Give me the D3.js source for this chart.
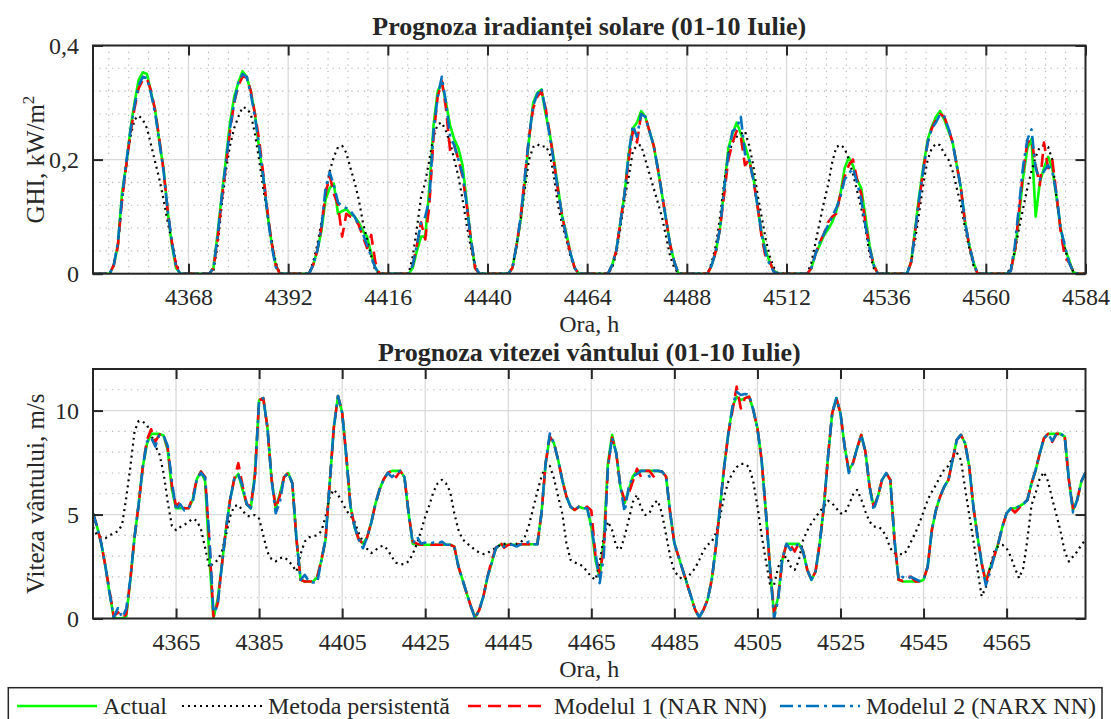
<!DOCTYPE html>
<html><head><meta charset="utf-8">
<script src="https://cdn.jsdelivr.net/npm/d3@7"></script>
<style>
body{margin:0;background:#fff}
svg{display:block}
text{font-family:"Liberation Serif","Times New Roman",serif;fill:#262626}
</style>
</head><body>
<svg id="c" width="1111" height="719"></svg>
<script>
// ---------- DATA (hourly, Ora 4345 ... 4584) ----------
const startHour = 4345;

// GHI, kW/m2
const ghiActual = [
0,0,0,0,0,0.015,0.05,0.143,0.19,0.253,0.30,0.34,0.353,0.35,0.317,0.285,0.23,0.184,0.108,0.05,0.01,0,0,0,
0,0,0,0,0,0.01,0.07,0.137,0.2,0.265,0.31,0.335,0.355,0.345,0.32,0.28,0.22,0.17,0.105,0.055,0.015,0,0,0,
0,0,0,0,0,0.015,0.04,0.075,0.13,0.15,0.158,0.105,0.11,0.113,0.105,0.1,0.09,0.075,0.065,0.035,0.01,0,0,0,
0,0,0,0,0,0.01,0.04,0.065,0.065,0.15,0.26,0.32,0.335,0.30,0.26,0.235,0.22,0.19,0.125,0.06,0.01,0,0,0,
0,0,0,0,0,0.01,0.05,0.095,0.16,0.235,0.30,0.317,0.323,0.28,0.245,0.2,0.15,0.1,0.07,0.035,0.01,0,0,0,
0,0,0,0,0,0.015,0.04,0.09,0.14,0.21,0.255,0.265,0.285,0.275,0.25,0.225,0.185,0.14,0.095,0.05,0.02,0,0,0,
0,0,0,0,0,0.015,0.04,0.08,0.15,0.22,0.245,0.265,0.245,0.225,0.2,0.17,0.12,0.07,0.04,0.02,0.005,0,0,0,
0,0,0,0,0,0.01,0.035,0.05,0.067,0.078,0.09,0.11,0.14,0.185,0.204,0.19,0.165,0.15,0.1,0.05,0.015,0,0,0,
0,0,0,0,0,0.02,0.08,0.14,0.19,0.235,0.258,0.275,0.285,0.27,0.25,0.23,0.19,0.15,0.09,0.05,0.02,0,0,0,
0,0,0,0,0,0.005,0.04,0.1,0.17,0.22,0.236,0.1,0.16,0.185,0.205,0.185,0.135,0.08,0.045,0.025,0.003,0,0,0
];
const ghiPersist = [
0,0,0,0,0,0.015,0.05,0.13,0.19,0.24,0.27,0.277,0.27,0.255,0.225,0.195,0.165,0.13,0.09,0.055,0.02,0,0,0,
0,0,0,0,0,0.005,0.05,0.12,0.18,0.225,0.255,0.275,0.292,0.29,0.28,0.245,0.2,0.15,0.105,0.06,0.02,0,0,0,
0,0,0,0,0,0.02,0.05,0.09,0.14,0.18,0.205,0.222,0.224,0.212,0.185,0.16,0.13,0.09,0.06,0.03,0.005,0,0,0,
0,0,0,0,0,0.03,0.08,0.135,0.16,0.2,0.24,0.262,0.265,0.25,0.23,0.2,0.17,0.13,0.085,0.045,0.015,0,0,0,
0,0,0,0,0,0.01,0.05,0.095,0.15,0.2,0.222,0.227,0.222,0.224,0.21,0.17,0.12,0.085,0.06,0.03,0.01,0,0,0,
0,0,0,0,0,0.01,0.035,0.08,0.13,0.17,0.215,0.225,0.225,0.2,0.175,0.15,0.125,0.1,0.065,0.03,0.01,0,0,0,
0,0,0,0,0,0.02,0.05,0.1,0.16,0.21,0.23,0.24,0.245,0.25,0.225,0.19,0.14,0.1,0.06,0.03,0.01,0,0,0,
0,0,0,0,0,0.02,0.055,0.09,0.125,0.155,0.195,0.222,0.226,0.22,0.2,0.175,0.145,0.115,0.08,0.035,0.01,0,0,0,
0,0,0,0,0,0.02,0.06,0.11,0.16,0.2,0.22,0.228,0.225,0.21,0.2,0.18,0.15,0.12,0.08,0.045,0.015,0,0,0,
0,0,0,0,0,0.01,0.04,0.08,0.115,0.15,0.18,0.205,0.222,0.225,0.222,0.2,0.135,0.08,0.045,0.02,0.005,0,0,0
];
const ghiNAR = [
0,0,0,0,0,0.015,0.05,0.13,0.19,0.245,0.29,0.325,0.34,0.342,0.32,0.285,0.235,0.18,0.11,0.055,0.015,0,0,0,
0,0,0,0,0,0.01,0.06,0.13,0.19,0.25,0.3,0.33,0.345,0.345,0.32,0.28,0.235,0.175,0.11,0.055,0.015,0,0,0,
0,0,0,0,0,0.015,0.04,0.08,0.14,0.172,0.14,0.12,0.065,0.105,0.1,0.098,0.085,0.065,0.045,0.068,0.02,0,0,0,
0,0,0,0,0,0.015,0.05,0.09,0.06,0.12,0.24,0.31,0.338,0.29,0.215,0.225,0.2,0.17,0.12,0.06,0.01,0,0,0,
0,0,0,0,0,0.01,0.05,0.1,0.17,0.24,0.29,0.31,0.32,0.29,0.245,0.195,0.145,0.1,0.065,0.035,0.01,0,0,0,
0,0,0,0,0,0.015,0.04,0.09,0.14,0.2,0.25,0.23,0.28,0.275,0.25,0.225,0.185,0.14,0.095,0.05,0.02,0,0,0,
0,0,0,0,0,0.015,0.04,0.08,0.14,0.2,0.23,0.25,0.24,0.19,0.2,0.165,0.12,0.065,0.028,0.02,0.003,0,0,0,
0,0,0,0,0,0.01,0.035,0.055,0.07,0.09,0.1,0.105,0.14,0.17,0.19,0.2,0.165,0.14,0.09,0.045,0.015,0,0,0,
0,0,0,0,0,0.02,0.075,0.13,0.185,0.23,0.255,0.27,0.28,0.275,0.255,0.23,0.19,0.15,0.09,0.05,0.02,0,0,0,
0,0,0,0,0,0.005,0.04,0.11,0.18,0.23,0.235,0.19,0.155,0.23,0.185,0.2,0.14,0.075,0.03,0.02,0.005,0,0,0
];
const ghiNARX = [
0,0,0,0,0,0.015,0.055,0.135,0.195,0.25,0.295,0.33,0.345,0.343,0.315,0.28,0.23,0.18,0.11,0.055,0.012,0,0,0,
0,0,0,0,0,0.01,0.065,0.135,0.195,0.255,0.3,0.335,0.35,0.345,0.315,0.275,0.225,0.17,0.105,0.05,0.012,0,0,0,
0,0,0,0,0,0.015,0.04,0.08,0.15,0.178,0.155,0.125,0.118,0.115,0.11,0.1,0.085,0.07,0.05,0.03,0.01,0,0,0,
0,0,0,0,0,0.015,0.05,0.09,0.10,0.13,0.25,0.31,0.345,0.30,0.24,0.225,0.20,0.175,0.12,0.06,0.015,0,0,0,
0,0,0,0,0,0.01,0.05,0.1,0.17,0.24,0.295,0.315,0.325,0.285,0.24,0.195,0.145,0.1,0.065,0.035,0.01,0,0,0,
0,0,0,0,0,0.015,0.04,0.09,0.14,0.21,0.26,0.24,0.28,0.275,0.25,0.225,0.185,0.14,0.095,0.05,0.02,0,0,0,
0,0,0,0,0,0.015,0.04,0.08,0.15,0.21,0.25,0.255,0.275,0.21,0.2,0.165,0.12,0.07,0.035,0.015,0.003,0,0,0,
0,0,0,0,0,0.01,0.035,0.055,0.07,0.085,0.1,0.115,0.135,0.165,0.175,0.185,0.16,0.13,0.085,0.045,0.015,0,0,0,
0,0,0,0,0,0.02,0.075,0.135,0.185,0.23,0.255,0.265,0.28,0.275,0.255,0.23,0.19,0.15,0.09,0.05,0.02,0,0,0,
0,0,0,0,0,0.005,0.05,0.12,0.19,0.235,0.253,0.185,0.165,0.18,0.19,0.18,0.14,0.08,0.05,0.02,0.005,0,0,0
];

// Viteza vantului, m/s
const windActual = [
5.06,4.4,3.6,2.5,1.2,0.05,0,0,0.1,1.86,3.9,5.5,7.3,8.4,8.88,8.88,8.88,8.8,8.1,6.2,5.3,5.3,5.3,5.3,
5.7,6.7,7.07,6.6,3.0,0,0.9,2.5,4.26,5.7,6.7,6.95,6.2,5.5,5.3,7.0,10.5,10.6,9.2,6.7,5.3,6.0,6.8,7.0,
6.5,3.8,1.86,1.78,1.78,1.78,2.0,2.8,3.8,6.5,9.2,10.7,9.9,7.8,5.4,4.4,3.8,3.6,3.9,4.6,5.5,6.2,6.7,7.0,
7.1,7.1,7.1,6.8,5.06,3.6,3.55,3.55,3.55,3.55,3.55,3.55,3.55,3.55,3.55,3.46,2.5,1.86,1.2,0.58,0.06,0.4,1.06,2.0,
2.66,3.38,3.55,3.55,3.55,3.55,3.55,3.57,3.57,3.57,3.57,3.57,5.06,7.47,8.75,8.43,7.63,6.67,5.87,5.38,5.22,5.38,5.3,5.3,
4.42,2.82,2.0,3.78,7.47,8.83,7.95,6.35,5.54,6.19,6.83,7.1,7.1,7.1,7.1,7.1,7.1,7.07,6.83,5.06,3.62,2.98,2.34,1.7,
1.06,0.42,0.06,0.42,0.9,1.86,3.46,5.38,7.31,8.9,10.2,10.67,10.5,10.6,10.67,10.03,9.15,7.63,5.22,2.5,0.18,1.06,2.82,3.59,
3.59,3.59,3.59,3.22,2.34,1.86,2.26,3.62,5.38,7.79,9.87,10.6,9.87,8.27,7.12,7.47,8.19,8.83,8.03,6.35,5.38,5.87,6.67,6.99,
6.67,3.78,1.86,1.78,1.78,1.78,1.78,1.78,1.86,2.5,4.26,5.22,5.87,6.35,6.67,7.63,8.59,8.83,8.43,7.31,5.38,3.94,2.66,1.78,
2.42,2.98,3.62,4.42,5.06,5.3,5.3,5.38,5.51,5.7,6.5,7.15,7.95,8.67,8.88,8.88,8.88,8.88,8.75,6.67,5.22,5.7,6.59,7.02
];
const windPersist = [
4.4,4.0,3.9,3.86,4.0,4.1,4.2,4.5,5.8,7.3,9.0,9.5,9.47,9.3,8.85,8.3,7.9,7.0,5.6,4.45,4.25,4.4,4.5,4.65,
4.8,4.7,4.3,3.4,2.45,2.66,2.8,3.2,4.0,4.9,5.4,5.46,5.2,4.95,4.9,4.98,4.8,4.0,3.2,2.85,2.75,2.9,2.95,2.8,
2.55,2.26,3.1,3.7,3.9,3.96,4.0,4.2,4.9,5.87,6.2,5.95,5.6,5.2,4.95,4.65,4.1,3.7,3.35,3.15,3.28,3.45,3.5,3.3,
2.95,2.68,2.6,2.62,2.75,3.1,3.6,4.2,4.9,5.46,6.1,6.5,6.67,6.5,6.1,5.06,4.26,3.81,3.62,3.46,3.3,3.17,3.1,3.14,
3.3,3.38,3.54,3.59,3.59,3.59,3.59,3.65,3.94,4.5,5.3,6.1,6.83,7.34,7.34,6.75,5.87,5.06,3.62,2.82,2.69,2.63,2.5,2.26,
2.0,1.86,2.66,3.94,4.66,4.26,3.46,3.3,3.94,4.74,5.6,5.95,5.3,4.98,5.06,5.54,5.67,5.06,4.02,2.98,2.26,2.05,1.86,1.94,
2.18,2.42,2.82,3.27,3.54,3.7,4.1,4.9,5.87,6.59,6.99,7.28,7.44,7.44,7.28,6.59,5.4,4.02,2.82,1.67,1.62,2.47,2.9,2.98,
2.5,2.34,2.82,3.78,4.23,4.58,4.87,5.14,5.38,5.67,5.54,5.3,5.06,5.06,5.46,5.95,6.19,5.74,5.14,4.66,4.42,4.42,4.29,3.94,
3.38,3.14,3.14,3.06,3.27,3.7,4.1,4.58,5.14,5.7,6.1,6.43,6.83,7.18,7.34,7.76,7.98,7.63,6.27,4.98,3.78,2.34,1.06,1.51,
2.42,3.22,3.49,3.54,3.38,2.98,2.42,1.94,2.42,3.78,5.46,6.03,6.75,7.04,6.59,5.74,4.98,4.18,3.22,2.74,2.98,3.22,3.54,3.78
];
const windNAR = [
5.06,4.4,3.6,2.5,1.3,0.1,0.3,0.05,0.2,1.9,3.9,5.5,7.3,8.6,9.1,8.5,8.85,8.8,8.2,6.4,5.4,5.6,5.3,5.3,
5.8,6.7,7.07,6.8,3.8,0.1,0.7,2.5,4.26,5.7,6.7,7.47,6.4,5.5,5.4,6.9,10.5,10.6,9.2,6.7,5.3,5.9,6.8,7.0,
6.5,3.8,1.86,1.78,1.78,1.78,2.0,2.8,3.8,6.5,9.2,10.7,9.9,7.8,5.4,4.4,3.8,3.6,3.9,4.6,5.5,6.2,6.7,7.0,
7.1,6.8,7.1,6.8,5.06,3.7,3.6,3.55,3.55,3.55,3.55,3.55,3.55,3.55,3.55,3.46,2.5,1.86,1.2,0.58,0.06,0.4,1.06,2.0,
2.8,3.38,3.7,3.4,3.55,3.55,3.55,3.57,3.57,3.57,3.57,3.57,5.06,7.47,8.75,8.43,7.63,6.67,5.87,5.38,5.22,5.38,5.3,5.38,
5.2,3.0,2.2,3.3,7.3,8.7,7.95,6.35,5.7,6.0,6.6,7.2,6.8,7.1,7.1,6.83,7.1,7.07,6.83,5.06,3.62,2.98,2.34,1.7,
1.06,0.42,0.06,0.42,0.9,1.86,3.46,5.38,7.31,8.9,10.0,11.15,10.1,10.6,10.67,10.03,9.15,7.63,5.22,2.5,0.3,1.06,2.82,3.59,
3.5,3.22,3.65,3.22,2.34,1.86,2.26,3.62,5.38,7.79,9.87,10.6,9.87,8.27,7.12,7.47,8.19,8.83,8.03,6.35,5.38,5.87,6.67,6.99,
6.67,3.78,1.86,1.8,2.0,2.0,1.78,1.78,1.86,2.5,4.26,5.22,5.87,6.35,6.67,7.63,8.59,8.83,8.43,7.31,5.38,3.94,2.66,1.7,
2.42,2.98,3.62,4.42,5.06,5.3,5.1,5.3,5.55,5.7,6.5,7.15,7.95,8.67,8.88,8.5,8.88,8.88,8.75,6.67,5.3,5.7,6.59,7.02
];
const windNARX = [
5.06,4.4,3.6,2.5,1.2,0.05,0.5,0.05,0.45,1.9,3.9,5.5,7.3,8.5,8.7,8.27,8.85,8.8,8.3,6.6,5.2,5.5,5.2,5.3,
5.6,6.7,7.0,6.8,4.0,0.3,0.6,2.5,4.26,5.7,6.7,6.9,6.4,5.5,5.3,6.8,10.5,10.6,9.2,6.7,5.06,5.6,6.8,7.0,
6.5,3.8,1.86,2.1,1.78,1.73,1.73,2.8,3.8,6.5,9.2,10.7,9.9,7.8,5.4,4.4,3.8,3.38,3.9,4.6,5.5,6.2,6.7,7.0,
6.8,7.0,7.1,6.8,5.06,3.6,3.94,3.6,3.65,3.6,3.65,3.6,3.7,3.55,3.55,3.46,2.5,1.86,1.2,0.58,0.0,0.4,1.06,2.0,
2.66,3.38,3.55,3.45,3.55,3.55,3.46,3.57,3.57,3.7,3.57,3.57,5.06,7.47,8.9,8.43,7.63,6.67,5.87,5.38,5.22,5.38,5.3,5.3,
4.42,3.2,1.7,3.0,7.3,8.7,7.95,6.35,5.14,6.3,6.83,6.95,7.1,7.1,6.83,7.1,7.1,7.07,6.83,5.06,3.62,2.98,2.34,1.7,
1.06,0.42,0.06,0.42,0.9,1.86,3.46,5.38,7.31,8.9,10.2,10.9,10.75,10.8,10.75,10.03,9.15,7.63,5.22,2.5,0.0,0.9,2.9,3.59,
3.3,3.4,3.65,3.22,2.34,1.86,2.26,3.62,5.38,7.79,9.87,10.6,9.87,8.27,7.0,7.47,8.19,8.83,8.03,6.35,5.2,5.87,6.67,6.99,
6.67,3.78,1.86,2.0,1.9,2.0,1.9,1.8,1.86,2.5,4.26,5.22,5.87,6.35,6.67,7.63,8.59,8.83,8.43,7.31,5.38,3.94,2.66,1.6,
2.2,2.98,3.62,4.42,5.06,5.3,5.3,5.4,5.51,5.7,6.5,7.15,7.95,8.67,8.88,8.54,8.88,8.88,8.75,6.67,5.1,5.7,6.59,7.02
];

// tick labels
const ghiXTicks  = [4368,4392,4416,4440,4464,4488,4512,4536,4560,4584];
const ghiYTicks  = [0,0.2,0.4];
const windXTicks = [4365,4385,4405,4425,4445,4465,4485,4505,4525,4545,4565];
const windYTicks = [0,5,10];

const seriesNames = ["Actual","Metoda persistentă","Modelul 1 (NAR NN)","Modelul 2 (NARX NN)"];

// ---------- STYLES ----------
const styles = [
  {color:"#00ff00", width:2.6, dash:null},
  {color:"#000000", width:2.2, dash:"2,4"},
  {color:"#ff0000", width:2.6, dash:"13,7"},
  {color:"#0072bd", width:2.6, dash:"13,5,3,5"}
];

const svg = d3.select("#c");
const X0 = 93, X1 = 1085.5;
const hours = d3.range(startHour, startHour + ghiActual.length);
const fmtComma = d => d3.format("")(d).replace(".", ",");

function panel(cfg){
  const x = d3.scaleLinear().domain([startHour, hours[hours.length-1]]).range([X0, X1]);
  const y = d3.scaleLinear().domain(cfg.yDomain).range([cfg.bottom, cfg.top]);
  const g = svg.append("g");
  const id = "clip" + cfg.key;
  svg.append("clipPath").attr("id", id).append("rect")
    .attr("x", X0).attr("y", cfg.top).attr("width", X1 - X0).attr("height", cfg.bottom - cfg.top);

  // minor grid (dotted)
  g.selectAll(".ymin").data(cfg.yMinor).enter().append("line")
    .attr("x1", X0).attr("x2", X1).attr("y1", d => y(d)).attr("y2", d => y(d))
    .attr("stroke", "#b4b4b4").attr("stroke-width", 1.1).attr("stroke-dasharray", "1.3,5");
  if (cfg.xMinor) {
    g.selectAll(".xmin").data(cfg.xMinor).enter().append("line")
      .attr("y1", cfg.top).attr("y2", cfg.bottom).attr("x1", d => x(d)).attr("x2", d => x(d))
      .attr("stroke", "#b4b4b4").attr("stroke-width", 1.1).attr("stroke-dasharray", "1.3,5");
  }
  // major grid
  g.selectAll(".ymaj").data(cfg.yTicks).enter().append("line")
    .attr("x1", X0).attr("x2", X1).attr("y1", d => y(d)).attr("y2", d => y(d))
    .attr("stroke", "#d9d9d9").attr("stroke-width", 1.3);
  g.selectAll(".xmaj").data(cfg.xTicks).enter().append("line")
    .attr("y1", cfg.top).attr("y2", cfg.bottom).attr("x1", d => x(d)).attr("x2", d => x(d))
    .attr("stroke", "#d9d9d9").attr("stroke-width", 1.3);

  // series
  const lg = g.append("g").attr("clip-path", `url(#${id})`);
  cfg.series.forEach((arr, i) => {
    const st = styles[i];
    const line = d3.line().x((d, j) => x(hours[j])).y(d => y(d));
    lg.append("path").datum(arr).attr("d", line)
      .attr("fill", "none").attr("stroke", st.color).attr("stroke-width", st.width)
      .attr("stroke-dasharray", st.dash).attr("stroke-linejoin", "round");
  });

  // axes (inward ticks, mirrored)
  const tl = 10;
  const axB = d3.axisBottom(x).tickValues(cfg.xTicks).tickSize(-tl).tickPadding(14).tickFormat(d3.format("d"));
  const axT = d3.axisTop(x).tickValues(cfg.xTicks).tickSize(-tl).tickFormat("");
  const axL = d3.axisLeft(y).tickValues(cfg.yTicks).tickSize(-tl).tickPadding(14).tickFormat(cfg.yFmt);
  const axR = d3.axisRight(y).tickValues(cfg.yTicks).tickSize(-tl).tickFormat("");
  const styleAx = sel => {
    sel.select(".domain").remove();
    sel.selectAll(".tick line").attr("stroke", "#262626").attr("stroke-width", 2);
    sel.selectAll(".tick text").attr("font-size", 24).attr("fill", "#262626")
      .attr("font-family", "Liberation Serif, Times New Roman, serif");
  };
  g.append("g").attr("transform", `translate(0,${cfg.bottom})`).call(axB).call(styleAx)
    .selectAll(".tick text").attr("dy", "0.71em");
  g.append("g").attr("transform", `translate(0,${cfg.top})`).call(axT).call(styleAx);
  g.append("g").attr("transform", `translate(${X0},0)`).call(axL).call(styleAx);
  g.append("g").attr("transform", `translate(${X1},0)`).call(axR).call(styleAx);

  g.append("rect").attr("x", X0).attr("y", cfg.top).attr("width", X1 - X0).attr("height", cfg.bottom - cfg.top)
    .attr("fill", "none").attr("stroke", "#262626").attr("stroke-width", 2);

  // title
  g.append("text").attr("x", (X0 + X1) / 2).attr("y", cfg.titleY).attr("text-anchor", "middle")
    .attr("font-size", 26).attr("font-weight", "bold").attr("fill", "#000").text(cfg.title);
  // x label
  g.append("text").attr("x", (X0 + X1) / 2).attr("y", cfg.bottom + 58).attr("text-anchor", "middle")
    .attr("font-size", 24).text("Ora, h");
  // y label
  const yl = g.append("text").attr("transform", `translate(44,${(cfg.top + cfg.bottom) / 2}) rotate(-90)`)
    .attr("text-anchor", "middle").attr("font-size", 25);
  cfg.ylabel(yl);
}

panel({
  key: "ghi", top: 45.5, bottom: 273.7, yDomain: [0, 0.4],
  yTicks: ghiYTicks, yFmt: d => d === 0 ? "0" : fmtComma(d),
  yMinor: [0.04,0.08,0.12,0.16,0.24,0.28,0.32,0.36],
  xTicks: ghiXTicks,
  xMinor: [4348.8,4353.6,4358.4,4363.2].concat(ghiXTicks.slice(0,-1).flatMap(t => [t+4.8,t+9.6,t+14.4,t+19.2])),
  title: "Prognoza iradianței solare (01-10 Iulie)", titleY: 34.5,
  ylabel: t => { t.append("tspan").text("GHI, kW/m"); t.append("tspan").attr("font-size", 17).attr("dy", -10).text("2"); },
  series: [ghiActual, ghiPersist, ghiNAR, ghiNARX]
});

panel({
  key: "wind", top: 369, bottom: 618.5, yDomain: [0, 12],
  yTicks: windYTicks, yFmt: d3.format("d"),
  yMinor: [1,2,3,4,6,7,8,9,11],
  xTicks: windXTicks, xMinor: null,
  title: "Prognoza vitezei vântului (01-10 Iulie)", titleY: 360.5,
  ylabel: t => t.text("Viteza vântului, m/s"),
  series: [windActual, windPersist, windNAR, windNARX]
});

// ---------- LEGEND ----------
const leg = svg.append("g");
leg.append("rect").attr("x", 8.3).attr("y", 687.7).attr("width", 1093.7).attr("height", 40)
  .attr("fill", "#fff").attr("stroke", "#262626").attr("stroke-width", 1.5);
const legX = [17, 182, 468, 780];
seriesNames.forEach((name, i) => {
  const st = styles[i];
  leg.append("line").attr("x1", legX[i]).attr("x2", legX[i] + 80).attr("y1", 706).attr("y2", 706)
    .attr("stroke", st.color).attr("stroke-width", st.width).attr("stroke-dasharray", st.dash);
  leg.append("text").attr("x", legX[i] + 86).attr("y", 714).attr("font-size", 24).text(name);
});
</script>
</body></html>
